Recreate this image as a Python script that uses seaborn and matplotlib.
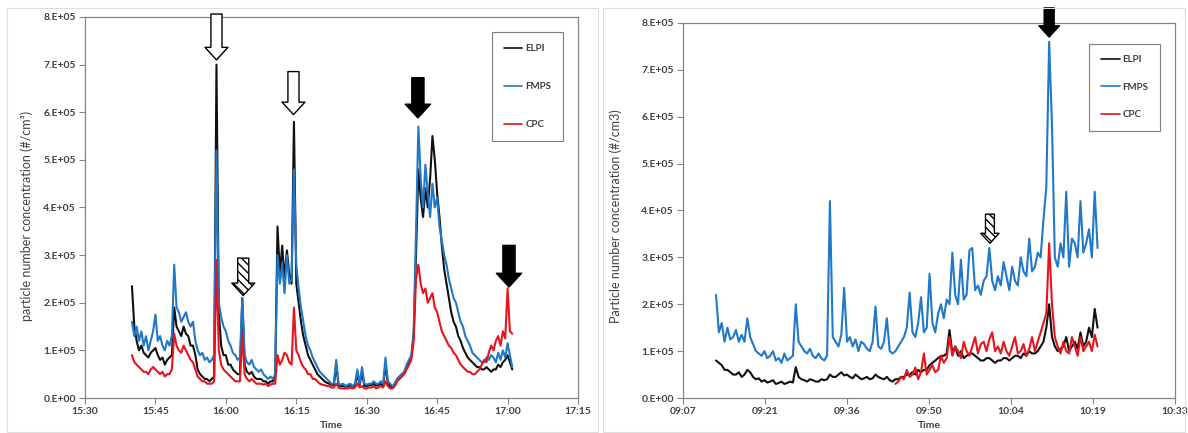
import numpy as np
import pandas as pd
import matplotlib
matplotlib.use("Agg")
import matplotlib.pyplot as plt
from matplotlib.ticker import FuncFormatter, FixedLocator
import seaborn as sns

# ---- left chart: 15:40 - 17:01, one reading every half minute (x 1e5 #/cm3)
left_time = np.arange(940, 1021.5, 0.5)   # minutes after midnight

left_elpi = [
    2.35, 1.5, 1.2, 1.0, 1.1, 0.95, 0.9, 0.85, 0.95, 1.0,
    1.05, 0.9, 0.8, 0.85, 0.7, 0.8, 0.85, 0.9, 1.9, 1.5,
    1.4, 1.3, 1.5, 1.35, 1.3, 1.1, 1.1, 0.9, 0.6, 0.5,
    0.45, 0.4, 0.4, 0.35, 0.4, 0.45, 7.0, 1.8, 1.1, 0.9,
    0.9, 0.7, 0.7, 0.6, 0.55, 0.5, 0.5, 2.1, 0.7, 0.55,
    0.5, 0.55, 0.45, 0.4, 0.4, 0.4, 0.35, 0.35, 0.3, 0.35,
    0.35, 0.45, 3.6, 2.6, 3.2, 2.5, 3.1, 2.6, 2.4, 5.8,
    2.4, 2.0, 1.6, 1.3, 1.1, 0.9, 0.8, 0.7, 0.6, 0.5,
    0.45, 0.4, 0.35, 0.32, 0.3, 0.28, 0.27, 0.7, 0.27, 0.25,
    0.25, 0.23, 0.25, 0.27, 0.23, 0.26, 0.5, 0.27, 0.55, 0.25,
    0.25, 0.27, 0.27, 0.3, 0.26, 0.27, 0.3, 0.26, 0.7, 0.3,
    0.25, 0.22, 0.3, 0.4, 0.45, 0.5, 0.55, 0.65, 0.75, 0.85,
    1.3, 3.0, 4.8, 4.2, 3.8, 4.4, 4.0, 4.6, 5.5, 5.0,
    4.3, 3.8, 3.2, 2.7, 2.4, 2.1, 1.8, 1.6, 1.5, 1.3,
    1.2, 1.05, 0.95, 0.85, 0.8, 0.75, 0.7, 0.65, 0.65, 0.6,
    0.6, 0.65, 0.6, 0.55, 0.6, 0.6, 0.7, 0.65, 0.75, 0.8,
    0.9, 0.75, 0.6]

left_fmps = [
    1.6, 1.3, 1.5, 1.2, 1.4, 1.1, 1.3, 1.0, 1.2, 1.4,
    1.75, 1.2, 1.3, 1.1, 1.0, 1.2, 1.1, 1.3, 2.8, 1.9,
    1.8, 1.6, 1.7, 1.8, 1.6, 1.5, 1.6, 1.2, 1.0, 0.9,
    0.95, 0.8, 0.85, 0.75, 0.8, 0.9, 5.2, 2.0, 1.7, 1.5,
    1.4, 1.2, 1.1, 0.95, 0.9, 0.8, 0.85, 2.1, 0.9, 0.75,
    0.7, 0.8, 0.65, 0.6, 0.55, 0.6, 0.5, 0.45, 0.4, 0.45,
    0.4, 0.5, 3.0, 2.4, 2.8, 2.2, 3.0, 2.4, 2.5, 4.8,
    2.8, 2.3, 1.9, 1.6, 1.3, 1.1, 1.0, 0.85, 0.75, 0.65,
    0.55, 0.5, 0.45, 0.4, 0.35, 0.3, 0.3, 0.8, 0.3, 0.28,
    0.3, 0.25, 0.28, 0.3, 0.25, 0.3, 0.6, 0.3, 0.65, 0.3,
    0.28, 0.3, 0.3, 0.35, 0.3, 0.3, 0.35, 0.3, 0.85, 0.35,
    0.3, 0.25, 0.3, 0.4, 0.45, 0.5, 0.55, 0.7, 0.8, 0.9,
    1.4, 3.5, 5.7, 4.6, 4.0, 4.9, 4.3, 3.8, 4.5, 4.0,
    4.2, 3.6, 3.3, 3.0, 2.8, 2.5, 2.3, 2.1, 2.0, 1.8,
    1.6, 1.5, 1.3, 1.2, 1.1, 0.95, 0.9, 0.85, 0.8, 0.75,
    0.75, 0.85, 0.8, 0.9, 0.85, 0.75, 0.95, 0.8, 1.0, 0.85,
    1.15, 0.9, 0.65]

left_cpc = [
    0.9, 0.75, 0.7, 0.65, 0.6, 0.55, 0.55, 0.5, 0.6, 0.65,
    0.6, 0.55, 0.5, 0.55, 0.45, 0.5, 0.5, 0.6, 1.35, 1.1,
    1.0, 0.95, 1.1, 1.0, 0.9, 0.8, 0.75, 0.6, 0.45, 0.4,
    0.35, 0.35, 0.3, 0.3, 0.3, 0.35, 2.9, 1.0, 0.7, 0.6,
    0.55, 0.5, 0.45, 0.4, 0.35, 0.35, 0.35, 1.35, 0.5, 0.4,
    0.35, 0.4, 0.35, 0.3, 0.3, 0.3, 0.28, 0.3, 0.25, 0.28,
    0.3, 0.3, 0.9, 0.7, 0.8, 0.95, 0.9, 0.75, 0.7, 1.9,
    1.0, 0.9, 0.75, 0.65, 0.6, 0.5, 0.5, 0.4, 0.4, 0.35,
    0.3, 0.28, 0.27, 0.25, 0.25, 0.22, 0.22, 0.3, 0.22, 0.2,
    0.2, 0.2, 0.2, 0.22, 0.2, 0.22, 0.3, 0.22, 0.25, 0.2,
    0.2, 0.22, 0.22, 0.25, 0.2, 0.22, 0.25, 0.22, 0.35, 0.25,
    0.2, 0.2, 0.25, 0.35, 0.4, 0.45, 0.5, 0.6, 0.7, 0.8,
    1.2, 2.5, 2.8, 2.4, 2.2, 2.3, 2.0, 2.1, 2.2, 1.9,
    1.8, 1.6, 1.4, 1.3, 1.2, 1.1, 1.05, 0.95, 0.9, 0.8,
    0.7, 0.65, 0.6, 0.55, 0.55, 0.5, 0.5, 0.55, 0.6, 0.7,
    0.8, 0.75, 0.95, 1.1, 1.0, 1.2, 1.3, 1.1, 1.4, 1.25,
    2.3, 1.4, 1.35]

# ---- right chart: 09:13 - 10:20, one reading every half minute
right_time = np.arange(553, 620.5, 0.5)

right_elpi = [
    0.8, 0.75, 0.7, 0.6, 0.6, 0.55, 0.5, 0.5, 0.55, 0.45,
    0.5, 0.6, 0.55, 0.45, 0.4, 0.42, 0.35, 0.38, 0.33, 0.35,
    0.38, 0.3, 0.32, 0.35, 0.3, 0.32, 0.35, 0.33, 0.66, 0.45,
    0.4, 0.38, 0.35, 0.4, 0.38, 0.35, 0.35, 0.4, 0.38, 0.4,
    0.5, 0.45, 0.45, 0.5, 0.55, 0.48, 0.5, 0.45, 0.42, 0.5,
    0.45, 0.4, 0.42, 0.45, 0.4, 0.42, 0.5, 0.45, 0.42, 0.4,
    0.45, 0.38, 0.35, 0.4, 0.4, 0.45, 0.45, 0.5, 0.5, 0.55,
    0.5, 0.6, 0.55, 0.6, 0.6, 0.7, 0.75, 0.8, 0.85, 0.9,
    0.9, 0.95, 1.45, 0.95, 1.1, 0.9, 1.0, 0.85, 0.9, 0.95,
    0.95, 0.9, 0.85, 0.8, 0.8, 0.85, 0.85, 0.8, 0.75, 0.8,
    0.8, 0.85, 0.85, 0.8, 0.85, 0.9, 0.9, 0.85, 0.95, 0.9,
    1.0, 0.95, 0.95, 1.0, 1.1, 1.2, 1.5, 2.0, 1.3, 1.1,
    1.0, 1.05, 1.1, 1.3, 1.0, 1.1, 1.2, 1.05, 1.4, 1.1,
    1.2, 1.5, 1.3, 1.9, 1.5]

right_fmps = [
    2.2, 1.4, 1.6, 1.2, 1.5, 1.25, 1.3, 1.45, 1.2, 1.35,
    1.2, 1.7, 1.3, 1.15, 1.0, 0.95, 0.9, 1.0, 0.85, 0.9,
    1.0, 0.8, 0.85, 0.75, 0.95, 0.8, 0.85, 0.9, 2.0, 1.2,
    1.1, 1.0, 0.95, 1.05, 0.9, 0.85, 0.95, 0.85, 0.8, 0.9,
    4.2, 1.3, 1.2, 1.1, 1.35, 2.35, 1.2, 1.3, 1.1, 1.25,
    1.0, 1.2, 1.15, 1.05, 1.0, 1.2, 1.95, 1.1, 1.05, 1.2,
    1.7, 1.0, 0.95, 1.0, 1.1, 1.2, 1.3, 1.5, 2.25, 1.4,
    1.3, 1.6, 2.15, 1.4, 1.5, 2.65, 1.6, 1.4, 1.8, 2.0,
    1.7, 2.1, 2.0, 3.1, 2.2, 2.0, 2.95, 2.1, 2.2, 3.15,
    3.2, 2.3, 2.4, 2.2, 2.5, 2.6, 3.2, 2.5, 2.3, 2.6,
    2.4, 2.9, 2.6, 2.3, 2.8, 2.5, 2.4, 3.0, 2.7, 2.6,
    3.4, 2.7, 2.8, 3.1, 3.0, 3.8, 4.5, 7.6, 5.8, 3.0,
    2.8, 3.3, 3.0, 4.4, 2.8, 3.4, 3.3, 3.0, 4.2, 3.1,
    3.3, 3.6, 3.0, 4.4, 3.2]

# CPC was only logged from 09:44 on
right_cpc = [np.nan] * 63 + [
    0.3,
    0.35, 0.45, 0.4, 0.6, 0.45, 0.5, 0.65, 0.4, 0.55, 0.95,
    0.5, 0.6, 0.7, 0.55, 0.6, 0.9, 0.75, 0.85, 1.3, 0.9,
    1.1, 1.0, 0.85, 1.2, 1.0, 0.9, 1.1, 1.3, 0.95, 1.15,
    1.2, 1.0, 1.25, 1.4, 1.0, 1.1, 0.95, 1.2, 1.0, 0.9,
    1.1, 1.3, 0.95, 1.0, 1.15, 0.9, 1.05, 1.3, 1.0, 1.2,
    1.4, 1.6, 1.8, 3.3, 2.0, 1.3, 1.1, 0.95, 1.2, 1.0,
    0.95, 1.3, 1.1, 0.9, 1.3, 1.0, 1.1, 1.2, 1.0, 1.35,
    1.1]

series = ["ELPI", "FMPS", "CPC"]
colors = {"ELPI": "#101010", "FMPS": "#1f78c8", "CPC": "#e8141b"}

left_ticks = [930, 945, 960, 975, 990, 1005, 1020, 1035]
right_ticks = [d * 1440 for d in [0.38, 0.39, 0.40, 0.41, 0.42, 0.43, 0.44]]

sns.set_theme(style="white")
plt.rcParams['font.family'] = ['Lato', 'DejaVu Sans']

TXT = "#404040"


def sci(v, pos):
    if v == 0:
        return "0.E+00"
    e = int(np.floor(np.log10(abs(v)) + 1e-9))
    return f"{v / 10**e:.0f}.E+{e:02d}"


def hhmm(v, pos):
    m = int(np.floor(v + 1e-6))
    return f"{m // 60:02d}:{m % 60:02d}"


def block_arrow(ax, t, v, length, kind, scale=1.0):
    fc = "black" if kind == "solid" else "white"
    hatch = "\\\\\\\\" if kind == "hatch" else None
    style = (f"simple,head_length={0.9 * scale},head_width={1.65 * scale},"
             f"tail_width={0.8 * scale}")
    ax.annotate("", xy=(t, v), xytext=(0, length), textcoords="offset points",
                annotation_clip=False,
                arrowprops=dict(arrowstyle=style, fc=fc, ec="black", lw=1.0,
                                hatch=hatch, shrinkA=0, shrinkB=0,
                                mutation_scale=10))


def draw_panel(ax, t, elpi, fmps, cpc, ticks, ylabel, leg_space, leg_top):
    df = pd.DataFrame({"time": t,
                       "ELPI": np.array(elpi) * 1e5,
                       "FMPS": np.array(fmps) * 1e5,
                       "CPC": np.array(cpc, dtype=float) * 1e5})
    for name in series:
        sns.lineplot(data=df, x="time", y=name, ax=ax, color=colors[name],
                     lw=1.5, label=name)
    ax.set_xlim(ticks[0], ticks[-1])
    ax.set_ylim(0, 8e5)
    ax.xaxis.set_major_locator(FixedLocator(ticks))
    ax.xaxis.set_major_formatter(FuncFormatter(hhmm))
    ax.yaxis.set_major_locator(FixedLocator(np.arange(0, 8.1e5, 1e5)))
    ax.yaxis.set_major_formatter(FuncFormatter(sci))
    ax.tick_params(axis="both", direction="out", length=4, width=0.8,
                   color="#868686", labelsize=7.5, labelcolor=TXT, pad=2.5,
                   bottom=True, left=True)
    for lab in ax.get_xticklabels() + ax.get_yticklabels():
        lab.set_fontweight("bold")
    for sp in ax.spines.values():
        sp.set_color("#868686")
        sp.set_linewidth(0.9)
    ax.set_xlabel("Time", fontsize=7.5, fontweight="bold", color=TXT, labelpad=1)
    ax.set_ylabel(ylabel, fontsize=9, color=TXT)
    leg = ax.legend(loc="upper left", bbox_to_anchor=(0.826, leg_top),
                    borderaxespad=0, frameon=True, fancybox=False,
                    edgecolor="#7f7f7f", framealpha=1, handlelength=1.9,
                    handletextpad=0.3, labelspacing=leg_space, borderpad=1.2,
                    prop={"size": 7, "weight": "bold"})
    leg.get_frame().set_linewidth(0.8)
    for line in leg.get_lines():
        line.set_linewidth(1.2)
    for txt in leg.get_texts():
        txt.set_color(TXT)


fig = plt.figure(figsize=(11.88, 4.33), dpi=100)
ax1 = fig.add_axes([85 / 1188, 35 / 433, 493 / 1188, 381 / 433])
ax2 = fig.add_axes([683 / 1188, 35 / 433, 492 / 1188, 375 / 433])

draw_panel(ax1, left_time, left_elpi, left_fmps, left_cpc, left_ticks,
           "particle number concentration (#/cm\u00b3)", 3.0, 0.96)
draw_panel(ax2, right_time, right_elpi, right_fmps, right_cpc, right_ticks,
           "Particle number concentration (#/cm3)", 1.9, 0.945)
ax1.yaxis.set_label_coords(-0.105, 0.478)
ax2.yaxis.set_label_coords(-0.124, 0.485)
ax1.xaxis.set_label_coords(0.5, -0.06)
ax2.xaxis.set_label_coords(0.5, -0.062)

# event arrows
block_arrow(ax1, 958, 7.1e5, 33, "open")
block_arrow(ax1, 963.7, 2.15e5, 27, "hatch")
block_arrow(ax1, 974.4, 5.95e5, 31, "open")
block_arrow(ax1, 1000.9, 5.88e5, 29, "solid", 1.1)
block_arrow(ax1, 1020.3, 2.33e5, 30, "solid", 1.1)
block_arrow(ax2, 611.5, 7.7e5, 21, "solid", 0.9)
block_arrow(ax2, 601.1, 3.3e5, 21, "hatch", 0.8)

# faint chart-area borders
for x0, w in [(7, 591), (603, 582)]:
    fig.add_artist(plt.Rectangle((x0 / 1188, 1 / 433), w / 1188, 424 / 433,
                                 transform=fig.transFigure, fill=False,
                                 ec="#dedede", lw=0.8))

fig.savefig("out.png", dpi=100)
